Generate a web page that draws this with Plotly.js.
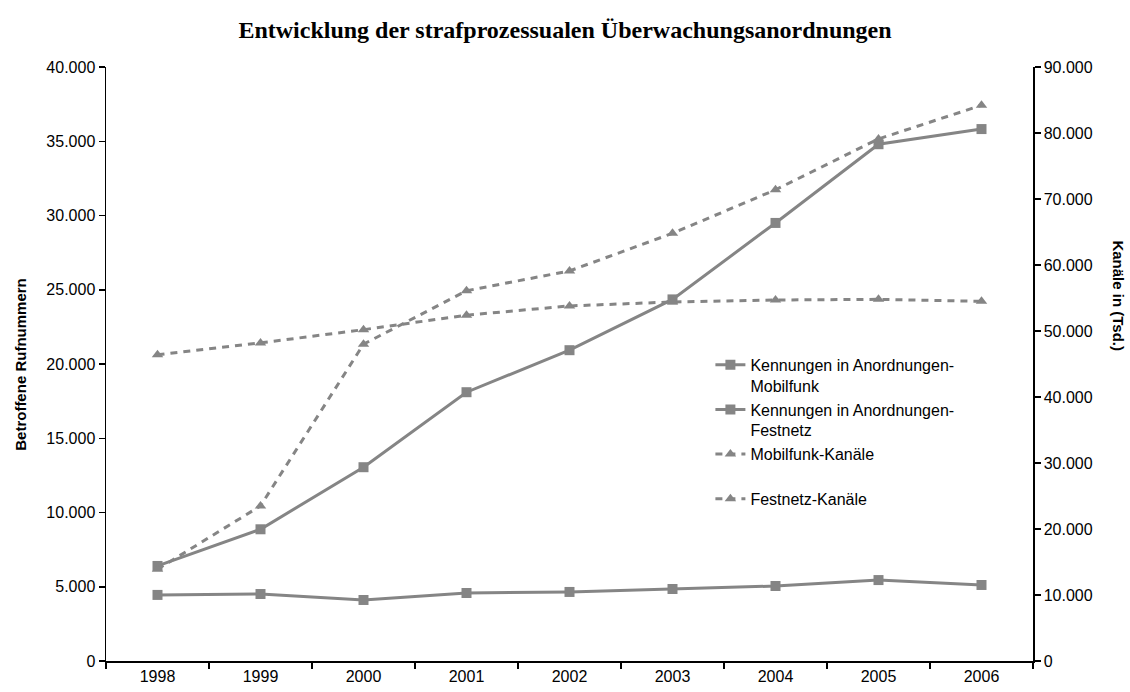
<!DOCTYPE html>
<html>
<head>
<meta charset="utf-8">
<script src="https://cdn.plot.ly/plotly-3.0.1.min.js"></script>
<style>html,body{margin:0;padding:0;background:#fff;}#chart{width:1130px;height:692px;}</style>
</head>
<body>
<div id="chart"></div>
<script>
const years = ["1998","1999","2000","2001","2002","2003","2004","2005","2006"];
const kennungenMobilfunk = [6400, 8870, 13050, 18100, 20930, 24350, 29500, 34800, 35820];
const kennungenFestnetz = [4450, 4510, 4110, 4580, 4650, 4850, 5050, 5450, 5120];
const mobilfunkKanaele = [13900, 23500, 48000, 56100, 59100, 64800, 71400, 79100, 84200];
const festnetzKanaele = [46400, 48200, 50200, 52400, 53800, 54400, 54700, 54800, 54500];
const names = ["Kennungen in Anordnungen-<br>Mobilfunk", "Kennungen in Anordnungen-<br>Festnetz", "Mobilfunk-Kanäle<br> ", "Festnetz-Kanäle"];

const grey = "#858585";
const solidLine = {color: grey, width: 3};
const dashLine = {color: grey, width: 3, dash: "7px,6px"};
const sq = {symbol: "square", size: 10, color: grey};
const tri = {symbol: "triangle-up", size: 10, color: grey};

const traces = [
  {x: years, y: kennungenMobilfunk, name: names[0], mode: "lines+markers", line: solidLine, marker: sq, yaxis: "y"},
  {x: years, y: kennungenFestnetz, name: names[1], mode: "lines+markers", line: solidLine, marker: sq, yaxis: "y"},
  {x: years, y: mobilfunkKanaele, name: names[2], mode: "lines+markers", line: dashLine, marker: tri, yaxis: "y2"},
  {x: years, y: festnetzKanaele, name: names[3], mode: "lines+markers", line: dashLine, marker: tri, yaxis: "y2"}
];

const sans = "Liberation Sans, Arial, sans-serif";
const tickFont = {family: sans, size: 16, color: "#000"};
const axisCommon = {showline: true, linecolor: "#000", linewidth: 1.5, ticks: "outside", ticklen: 6, tickcolor: "#000", tickwidth: 1.5, showgrid: false, zeroline: false, tickfont: tickFont};

const layout = {
  width: 1130, height: 692,
  separators: ",.",
  paper_bgcolor: "#fff", plot_bgcolor: "#fff",
  margin: {l: 106, r: 97, t: 67, b: 31},
  showlegend: true,
  title: {text: "<b>Entwicklung der strafprozessualen Überwachungsanordnungen</b>", font: {family: "Liberation Serif, Times New Roman, serif", size: 24, color: "#000"}, x: 0.5, xanchor: "center", y: 0.957, yanchor: "middle"},
  xaxis: Object.assign({type: "category", range: [-0.5, 8.5], tickson: "boundaries"}, axisCommon),
  yaxis: Object.assign({range: [0, 40000], dtick: 5000, tickformat: ",d"}, axisCommon),
  yaxis2: Object.assign({range: [0, 90000], dtick: 10000, tickformat: ",d", overlaying: "y", side: "right"}, axisCommon),
  legend: {x: 0.652, y: 0.527, xanchor: "left", yanchor: "top", bgcolor: "rgba(0,0,0,0)", font: {family: sans, size: 16, color: "#000"}, valign: "top", tracegroupgap: 0},
  annotations: [
    {text: "<b>Betroffene Rufnummern</b>", xref: "paper", yref: "paper", x: -0.093, y: 0.5, textangle: -90, showarrow: false, font: {family: sans, size: 15, color: "#000"}, xanchor: "center", yanchor: "middle"},
    {text: "<b>Kanäle in (Tsd.)</b>", xref: "paper", yref: "paper", x: 1.092, y: 0.615, textangle: 90, showarrow: false, font: {family: sans, size: 15, color: "#000"}, xanchor: "center", yanchor: "middle"}
  ]
};

Plotly.newPlot("chart", traces, layout, {displayModeBar: false, staticPlot: true});
</script>
</body>
</html>
